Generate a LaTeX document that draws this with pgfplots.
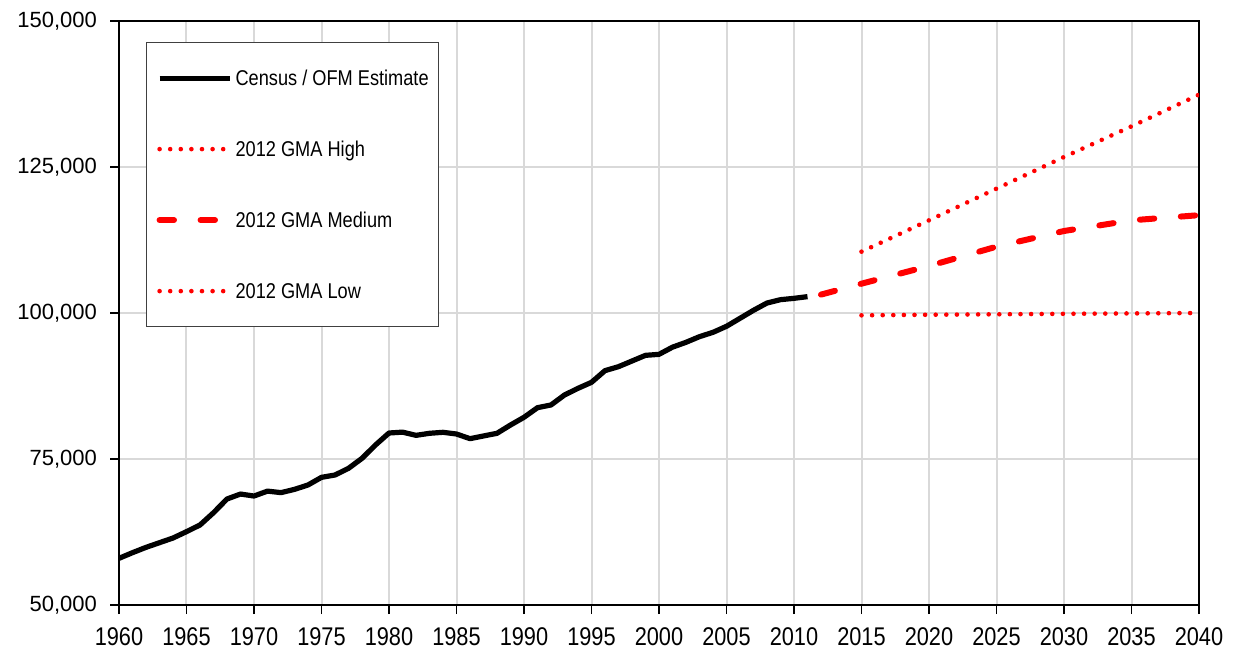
\documentclass[border=0pt]{standalone}
\usepackage{pgfplots}
\pgfplotsset{compat=1.18}
\usepackage{fontspec}
\setmainfont{Liberation Sans}
\newfontfamily\narrowfont{Liberation Sans}[FakeStretch=0.85]
\definecolor{gridgray}{gray}{0.85}
\begin{document}
\begin{tikzpicture}
\useasboundingbox (-59.5pt,-26.5pt) rectangle (557.5pt,302.5pt);
\begin{axis}[
 at={(0,0)}, anchor=south west,
 scale only axis, width=540pt, height=292pt,
 xmin=1960, xmax=2040, ymin=50000, ymax=150000,
 xtick={1960,1965,...,2040}, ytick={50000,75000,...,150000},
 grid=major, major grid style={gridgray, line width=1pt},
 axis line style={black, line width=1pt},
 tick align=outside, major tick length=4.5pt, tick style={black, line width=0.8pt},
 xtick pos=bottom, ytick pos=left,
 /pgf/number format/assume math mode=true,
 scaled y ticks=false,
 yticklabel style={font=\fontsize{11}{13}\selectfont, xshift=-3pt, /pgf/number format/.cd, fixed, 1000 sep={,}},
 xticklabel style={font=\narrowfont\fontsize{12.8}{14}\selectfont, yshift=-3.5pt, /pgf/number format/.cd, 1000 sep={}},
 legend style={at={(0.025,0.964)}, anchor=north west, draw=black!75, line width=0.6pt, fill=white,
   inner xsep=5pt, inner ysep=14pt, row sep=28pt, column sep=1.5pt,
   font=\narrowfont\fontsize{10.7}{12}\selectfont,
   nodes={inner sep=0pt, text height=7.5pt, text depth=0pt}},
 legend cell align=left,
 legend image code/.code={\draw[#1] (0pt,0pt) -- (35pt,0pt);},
]
\addplot[black, line width=2.6pt, line join=round] coordinates {
(1960,57990) (1961,58960) (1962,59870) (1963,60670) (1964,61470) (1965,62560)
(1966,63700) (1967,65800) (1968,68150) (1969,69000) (1970,68660) (1971,69500)
(1972,69240) (1973,69800) (1974,70550) (1975,71860) (1976,72260) (1977,73400)
(1978,75110) (1979,77400) (1980,79450) (1981,79600) (1982,79050) (1983,79400)
(1984,79570) (1985,79280) (1986,78480) (1987,78940) (1988,79400) (1989,80820)
(1990,82140) (1991,83790) (1992,84250) (1993,85960) (1994,87100) (1995,88130)
(1996,90130) (1997,90810) (1998,91780) (1999,92750) (2000,92920) (2001,94150)
(2002,94980) (2003,95950) (2004,96690) (2005,97720) (2006,99090) (2007,100460)
(2008,101710) (2009,102280) (2010,102510) (2011,102800)
};
\addlegendentry{Census / OFM Estimate}
\addplot[red, line width=2.3pt, line cap=round, dash pattern=on 0pt off 5.3pt] coordinates {
(2015,110500) (2020,115870) (2025,121290) (2030,126710) (2035,131960) (2040,137380)
};
\addlegendentry{2012 GMA High}
\addplot[red, line width=3pt, line cap=round, dash pattern=on 7.2pt off 13.3pt] coordinates {
(2012,103150) (2015,105020) (2020,108050) (2025,111360) (2030,114040) (2035,115870) (2040,116750)
};
\addlegendentry{2012 GMA Medium}
\addplot[red, line width=2.3pt, line cap=round, dash pattern=on 0pt off 5.3pt] coordinates {
(2015,99600) (2020,99700) (2025,99780) (2030,99860) (2035,99930) (2040,100000)
};
\addlegendentry{2012 GMA Low}
\end{axis}
\end{tikzpicture}
\end{document}
